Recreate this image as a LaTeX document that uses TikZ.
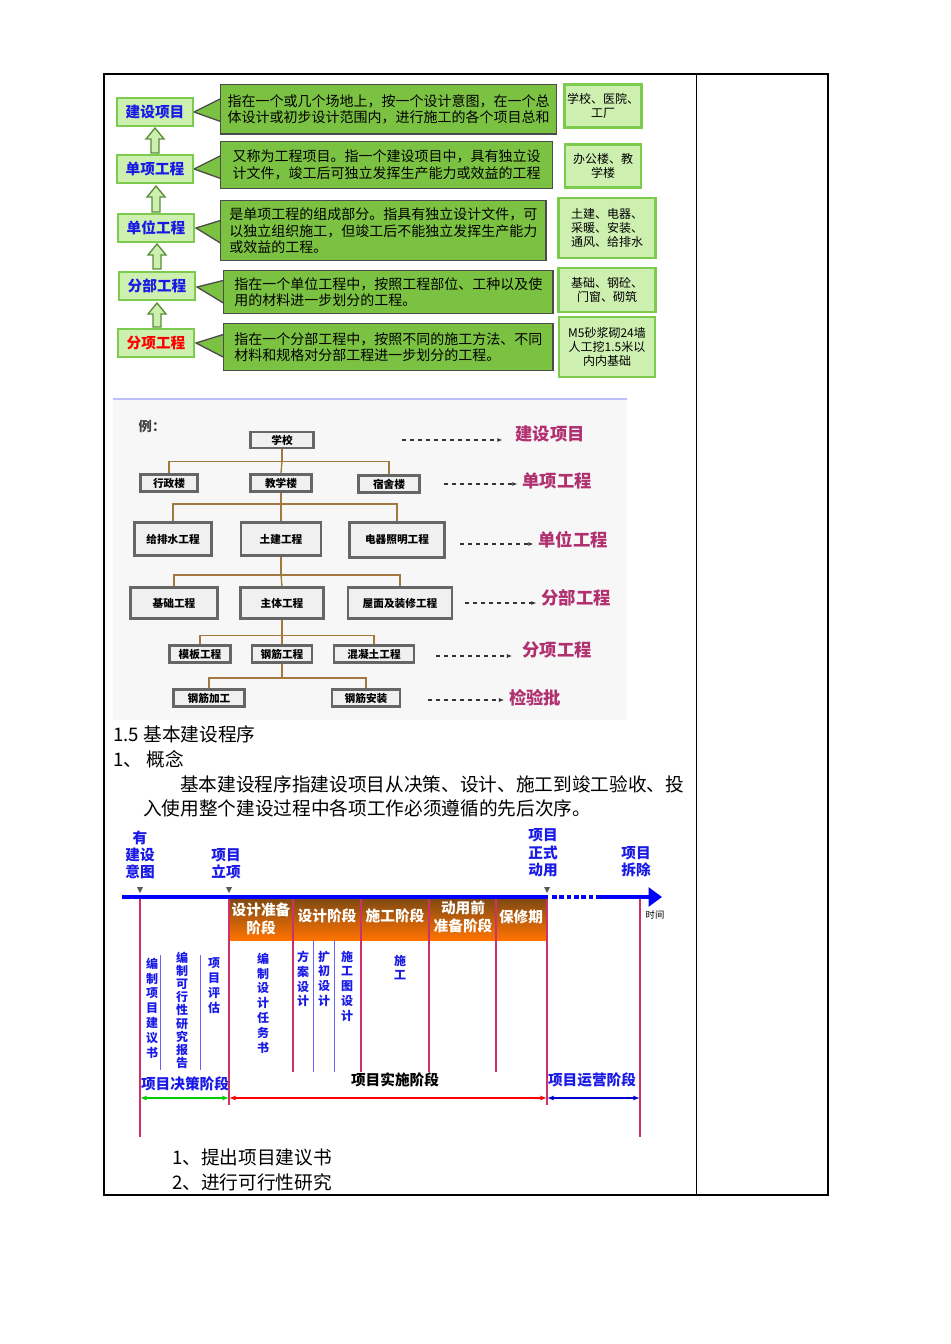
\documentclass[tikz,border=0pt]{standalone}
\usepackage{fontspec}
\setmainfont{Noto Sans CJK SC}
\usetikzlibrary{arrows.meta}
\definecolor{gfill}{HTML}{7CC242}
\definecolor{lgfill}{HTML}{CDEFB0}
\definecolor{gedge}{HTML}{7CCB4E}
\definecolor{tblue}{HTML}{1A1AE6}
\definecolor{mag}{HTML}{B03070}
\definecolor{pinkl}{HTML}{D0306A}
\definecolor{brownl}{HTML}{A07840}
\tikzset{x=0.75pt,y=-0.75pt,
 lab/.style={draw=gedge,line width=2pt,fill=lgfill,font=\bfseries\fontsize{11}{12}\selectfont,text=tblue,minimum width=57pt,minimum height=21pt,inner sep=0pt},
 desc/.style={draw=black!70,line width=1pt,fill=gfill,font=\fontsize{10.5}{12.5}\selectfont,align=left,anchor=north west,inner sep=2pt},
 ex/.style={draw=gedge,line width=2pt,fill=lgfill,font=\fontsize{9}{10.5}\selectfont,align=center,inner sep=1pt},
 tb/.style={draw=black!60,line width=2pt,fill=gray!12,font=\bfseries\fontsize{8}{9}\selectfont,inner sep=0pt},
 tl/.style={draw=brownl,line width=1pt},
 rl/.style={text=mag,font=\bfseries\fontsize{13}{14}\selectfont},
 da/.style={dashed,line width=1.2pt,-{Latex[length=4pt]},black!80},
 vt/.style={text=tblue,font=\bfseries\fontsize{9}{11.2}\selectfont,align=center,anchor=north},
 hd/.style={text=tblue,font=\bfseries\fontsize{11}{13}\selectfont,align=center},
 body/.style={font=\fontsize{14}{15}\selectfont,anchor=west,inner sep=0pt},
 ow/.style={text=white,font=\bfseries\fontsize{11}{13}\selectfont,align=center}}
\begin{document}
\begin{tikzpicture}
\useasboundingbox (0,0) rectangle (950,1344);
% table frame
\draw[line width=1pt] (104,74) rectangle (828,1195);
\draw[line width=0.6pt] (696,74) -- (696,1195);
% ---- part 1
\newcommand{\uparr}[3]{\filldraw[draw=gedge!70!black,fill=lgfill,line width=1pt] (#1-4,#3) -- (#1-4,#2+11) -- (#1-9,#2+11) -- (#1,#2) -- (#1+9,#2+11) -- (#1+4,#2+11) -- (#1+4,#3) -- cycle;}
\newcommand{\ptr}[4]{\filldraw[draw=black!70,fill=gfill,line width=1pt] (#1,#2) -- (#3,#4-10) -- (#3,#4+14) -- cycle;}
\ptr{194}{112}{222}{108}
\ptr{194}{169}{222}{165}
\ptr{196}{228}{222}{230}
\ptr{197}{287}{225}{290}
\ptr{196}{343}{225}{344}
\node[desc,minimum width=252pt,minimum height=37pt] (d1) at (220,84) {指在一个或几个场地上，按一个设计意图，在一个总\\体设计或初步设计范围内，进行施工的各个项目总和};
\node[desc,minimum width=249pt,minimum height=35pt] (d2) at (220,141) {又称为工程项目。指一个建设项目中，具有独立设\\计文件，竣工后可独立发挥生产能力或效益的工程};
\node[desc,minimum width=244pt,minimum height=45pt] (d3) at (220,200) {是单项工程的组成部分。指具有独立设计文件，可\\以独立组织施工，但竣工后不能独立发挥生产能力\\或效益的工程。};
\node[desc,minimum width=247pt,minimum height=32pt] (d4) at (223,270) {指在一个单位工程中，按照工程部位、工种以及使\\用的材料进一步划分的工程。};
\node[desc,minimum width=247pt,minimum height=35pt] (d5) at (223,323) {指在一个分部工程中，按照不同的施工方法、不同\\材料和规格对分部工程进一步划分的工程。};
\node[lab] (l1) at (155,112) {建设项目};
\node[lab] (l2) at (155,169) {单项工程};
\node[lab] (l3) at (156,228) {单位工程};
\node[lab] (l4) at (157,286) {分部工程};
\node[lab,text=red] (l5) at (156,343) {分项工程};
\uparr{155}{128}{153}
\uparr{156}{186}{212}
\uparr{157}{244}{269}
\uparr{157}{303}{327}
\node[ex,minimum width=58pt,minimum height=32pt] (e1) at (603,106) {学校、医院、\\工厂};
\node[ex,minimum width=57pt,minimum height=32pt] (e2) at (603,166) {办公楼、教\\学楼};
\node[ex,minimum width=73pt,minimum height=45pt] (e3) at (607,228) {土建、电器、\\采暖、安装、\\通风、给排水};
\node[ex,minimum width=73pt,minimum height=33pt] (e4) at (607,290) {基础、钢砼、\\门窗、砌筑};
\node[ex,minimum width=72pt,minimum height=45pt] (e5) at (607,347) {M5砂浆砌24墙\\人工挖1.5米以\\内内基础};
% ---- part 2
\fill[gray!6] (113,399) rectangle (627,720);
\draw[blue!25,line width=1pt] (113,399) -- (627,399);
\node[font=\bfseries\fontsize{10}{11}\selectfont,text=black!75] (li) at (152,426) {例：};
\node[tb,minimum width=47pt,minimum height=12pt] (a) at (282,440) {学校};
\node[tb,minimum width=43pt,minimum height=13pt] (b1) at (169,483) {行政楼};
\node[tb,minimum width=46pt,minimum height=13pt] (b2) at (281,483) {教学楼};
\node[tb,minimum width=46pt,minimum height=13pt] (b3) at (389,484) {宿舍楼};
\node[tb,minimum width=58pt,minimum height=25pt] (c1) at (173,539) {给排水工程};
\node[tb,minimum width=60pt,minimum height=25pt] (c2) at (281,539) {土建工程};
\node[tb,minimum width=71pt,minimum height=26pt] (c3) at (397,540) {电器照明工程};
\node[tb,minimum width=65pt,minimum height=23pt] (f1) at (174,603) {基础工程};
\node[tb,minimum width=62pt,minimum height=23pt] (f2) at (282,603) {主体工程};
\node[tb,minimum width=78pt,minimum height=23pt] (f3) at (400,603) {屋面及装修工程};
\node[tb,minimum width=46pt,minimum height=13pt] (g1) at (200,654) {模板工程};
\node[tb,minimum width=45pt,minimum height=13pt] (g2) at (282,654) {钢筋工程};
\node[tb,minimum width=60pt,minimum height=13pt] (g3) at (374,654) {混凝土工程};
\node[tb,minimum width=53pt,minimum height=13pt] (h1) at (209,698) {钢筋加工};
\node[tb,minimum width=51pt,minimum height=13pt] (h2) at (366,698) {钢筋安装};
\draw[tl] (a.south) -- ++(0,12) coordinate (ja); \draw[tl] (b1.north) |- (ja) -| (b3.north); \draw[tl] (ja) -- (b2.north);
\draw[tl] (b2.south) -- ++(0,11) coordinate (jb); \draw[tl] (c1.north) |- (jb) -| (c3.north); \draw[tl] (jb) -- (c2.north);
\draw[tl] (c2.south) -- ++(0,18) coordinate (jc); \draw[tl] (f1.north) |- (jc) -| (f3.north); \draw[tl] (jc) -- (f2.north);
\draw[tl] (f2.south) -- ++(0,16) coordinate (jd); \draw[tl] (g1.north) |- (jd) -| (g3.north); \draw[tl] (jd) -- (g2.north);
\draw[tl] (g2.south) -- ++(0,14) coordinate (je); \draw[tl] (h1.north) |- (je) -| (h2.north);
\node[rl] (r1) at (550,434) {建设项目};
\node[rl] (r2) at (557,481) {单项工程};
\node[rl] (r3) at (573,540) {单位工程};
\node[rl] (r4) at (576,598) {分部工程};
\node[rl] (r5) at (557,650) {分项工程};
\node[rl] (r6) at (535,698) {检验批};
\coordinate (s1) at (402,440); \coordinate (s2) at (444,484); \coordinate (s3) at (460,544);
\coordinate (s4) at (465,603); \coordinate (s5) at (436,656); \coordinate (s6) at (428,700);
\draw[da] (s1) -- ([xshift=-6pt]s1 -| r1.west); \draw[da] (s2) -- (s2 -| r2.west); \draw[da] (s3) -- (s3 -| r3.west);
\draw[da] (s4) -- (s4 -| r4.west); \draw[da] (s5) -- ([xshift=-4pt]s5 -| r5.west); \draw[da] (s6) -- (s6 -| r6.west);
% ---- text
\node[body] (t1) at (113,734) {1.5 基本建设程序};
\node[body] (t2) at (113,759) {1、 概念};
\node[body] (t3) at (180,784) {基本建设程序指建设项目从决策、设计、施工到竣工验收、投};
\node[body] (t4) at (143,808) {入使用整个建设过程中各项工作必须遵循的先后次序。};
\node[body] (t5) at (172,1157) {1、提出项目建议书};
\node[body] (t6) at (172,1182) {2、进行可行性研究};
% ---- part 3
\shade[top color=black!60!orange!70!brown,bottom color=orange!90!red] (229,899) rectangle (547,940);
\foreach \x in {293,361,429,496} \draw[pinkl,line width=1pt] (\x,899) -- (\x,1072);
\foreach \x in {140,640} \draw[pinkl,line width=1pt] (\x,897) -- (\x,1137);
\foreach \x in {229,547} \draw[pinkl,line width=1pt] (\x,897) -- (\x,1105);
\foreach \x in {160,200} \draw[blue!60,line width=0.6pt] (\x,955) -- (\x,1070);
\foreach \x in {313,334} \draw[blue!60,line width=0.6pt] (\x,940) -- (\x,1072);
\draw[blue,line width=3.5pt] (122,897) -- (548,897);
\draw[blue,line width=3.5pt,dotted] (552,897) -- (600,897);
\draw[blue,line width=3.5pt,-{Triangle[length=10pt,width=14pt]}] (600,897) -- (662,897);
\node[font=\fontsize{7}{8}\selectfont] (tm) at (655,915) {时间};
\node[ow] (o1) at (261,919) {设计准备\\阶段};
\node[ow] (o2) at (327,916) {设计阶段};
\node[ow] (o3) at (395,916) {施工阶段};
\node[ow] (o4) at (463,917) {动用前\\准备阶段};
\node[ow] (o5) at (521,917) {保修期};
\node[hd] (m1) at (140,855) {有\\建设\\意图};
\node[hd] (m2) at (226,864) {项目\\立项};
\node[hd] (m3) at (543,853) {项目\\正式\\动用};
\node[hd] (m4) at (636,862) {项目\\拆除};
\foreach \x in {140,229,547} \fill[gray!70!black] (\x-3,887) -- (\x+3,887) -- (\x,893) -- cycle;
\node[vt] (v1) at (152,953) {编\\制\\项\\目\\建\\议\\书};
\node[vt,font=\bfseries\fontsize{9}{9.9}\selectfont] (v2) at (182,947) {编\\制\\可\\行\\性\\研\\究\\报\\告};
\node[vt] (v3) at (214,953) {项\\目\\评\\估};
\node[vt] (v4) at (263,948) {编\\制\\设\\计\\任\\务\\书};
\node[vt] (v5) at (303,946) {方\\案\\设\\计};
\node[vt] (v6) at (324,946) {扩\\初\\设\\计};
\node[vt] (v7) at (347,946) {施\\工\\图\\设\\计};
\node[vt] (v8) at (400,950) {施\\工};
\node[hd] (p1) at (185,1084) {项目决策阶段};
\node[hd,text=black] (p2) at (395,1080) {项目实施阶段};
\node[hd] (p3) at (592,1080) {项目运营阶段};
\coordinate (x1) at (140,1098); \coordinate (x2) at (229,1098); \coordinate (x3) at (547,1098); \coordinate (x4) at (640,1098);
\draw[green!80!black,line width=2pt,{Latex[length=5pt]}-{Latex[length=5pt]}] (x1) -- (x2);
\draw[red,line width=2pt,{Latex[length=5pt]}-{Latex[length=5pt]}] (x2) -- (x3);
\draw[blue!80!black,line width=2pt,{Latex[length=5pt]}-{Latex[length=5pt]}] (x3) -- (x4);
\end{tikzpicture}
\end{document}
